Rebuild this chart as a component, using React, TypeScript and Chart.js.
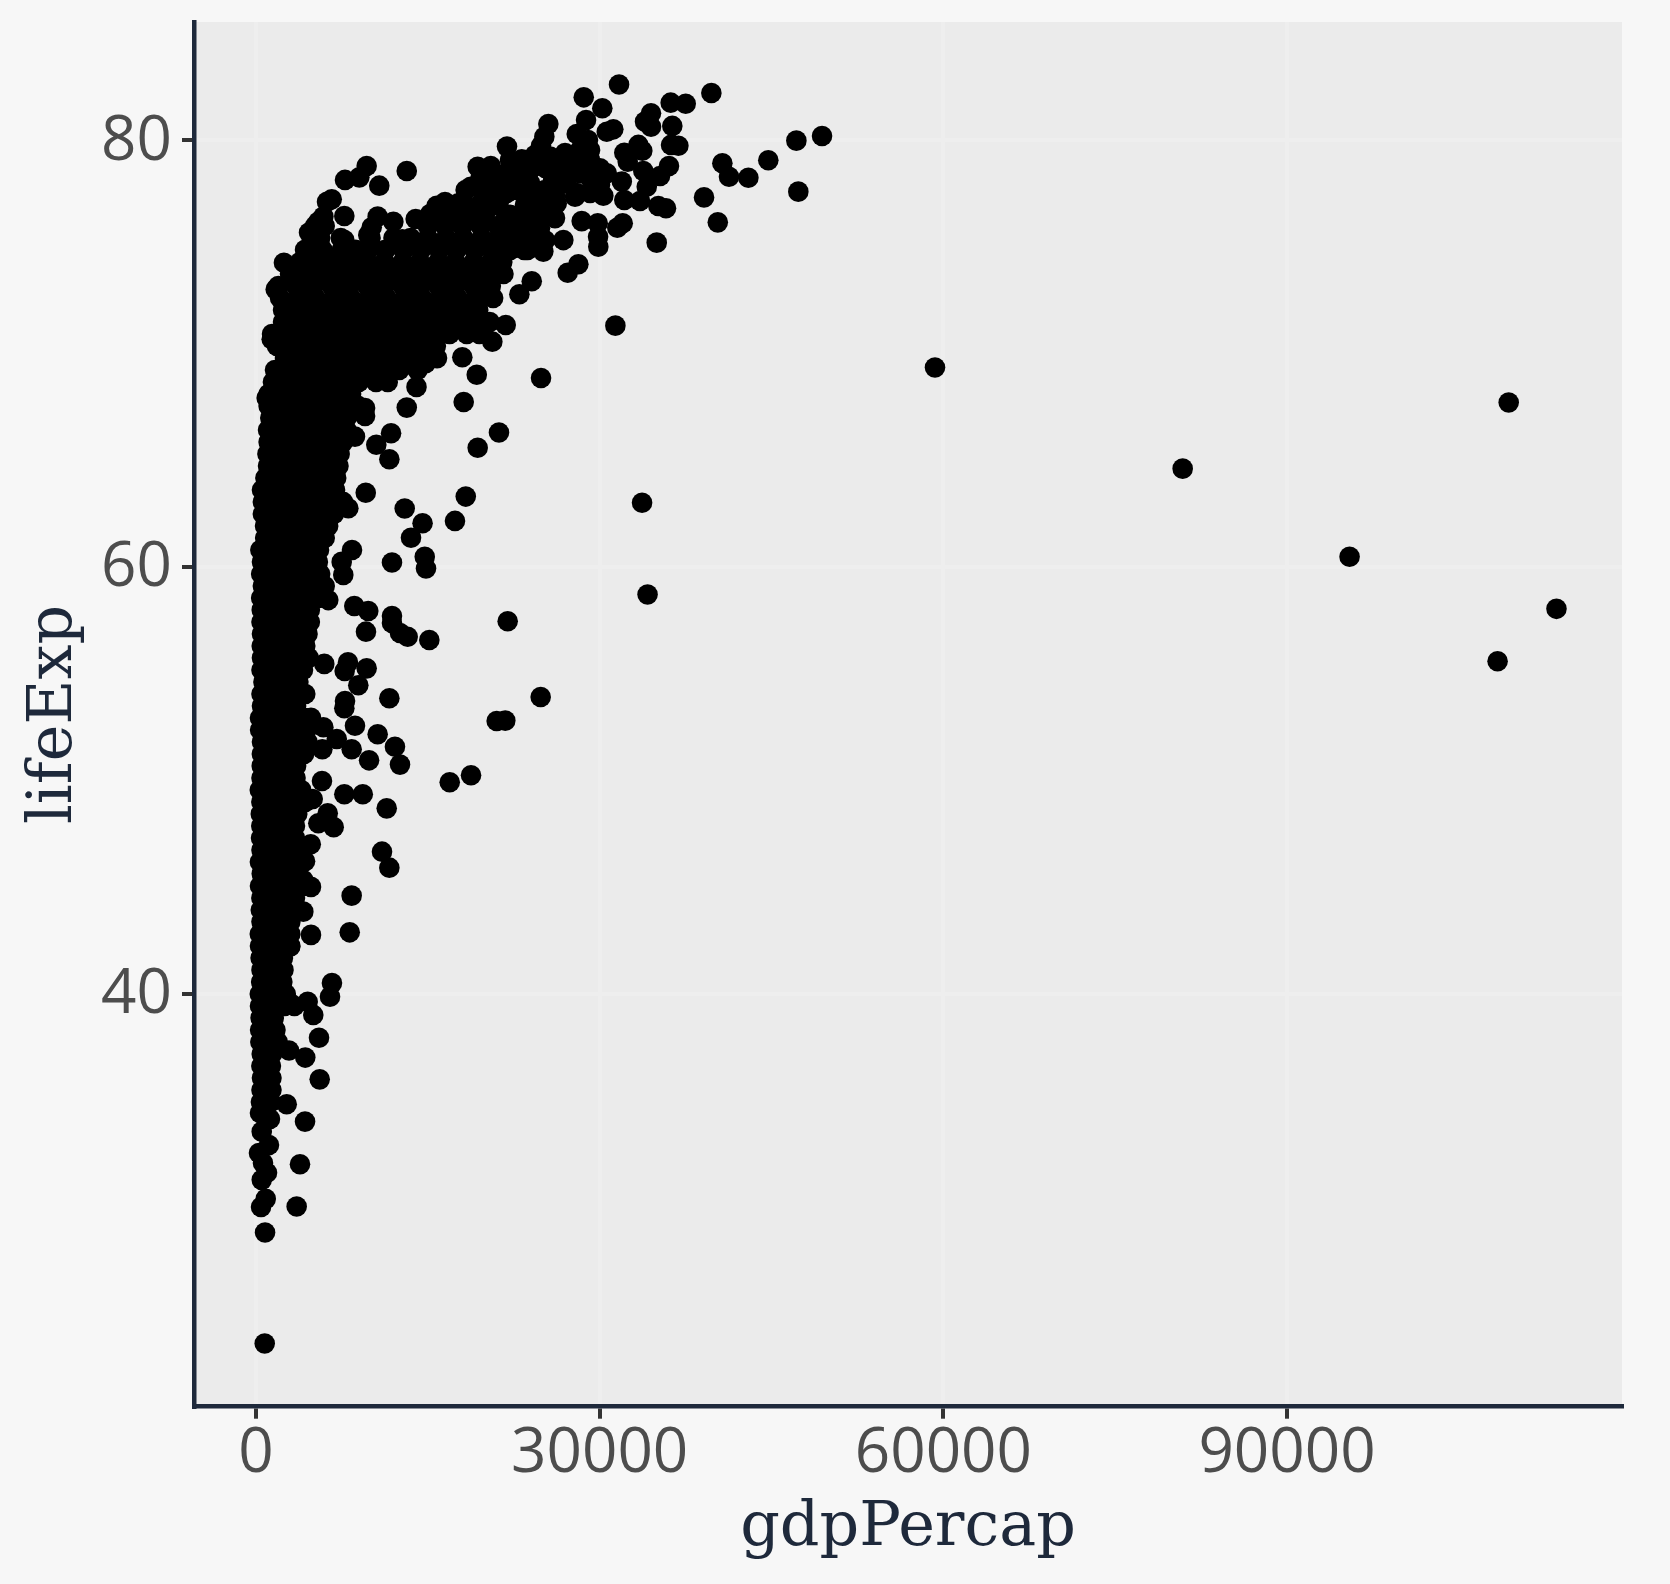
import React, { useEffect, useRef } from "react";
import { Chart, registerables } from "chart.js";

Chart.register(...registerables);

const xTitle = "gdpPercap";
const yTitle = "lifeExp";
const xTicks = [0, 30000, 60000, 90000];
const yTicks = [40, 60, 80];

// each row: life expectancy, then the gdp values read along that row of the dense cloud
const cloudLow: [number, number[]][] = [
  [34.92, [430, 1300]], [35.48, [480, 1350]], [36.04, [520, 1350]], [36.61, [470, 1300]],
  [37.17, [500, 1400]], [37.73, [380, 1500, 1900]], [38.29, [360, 1400, 1700]], [38.86, [400, 1300, 1550]],
  [39.42, [350, 1400, 2500, 3350]], [39.98, [330, 1250, 2200, 2600]], [40.54, [450, 1350, 2300]],
  [41.11, [480, 1500, 2400]], [41.67, [400, 1300, 2350]], [42.23, [350, 1400, 2450, 3000]],
  [42.79, [330, 1350, 2300, 3000]], [43.36, [480, 1500, 2450, 3000]], [43.92, [420, 1350, 2500, 3500]],
  [44.48, [470, 1500, 2500, 3400]], [45.04, [350, 1400, 2400, 3300, 4150]], [45.61, [500, 1600, 2600, 3500]],
  [46.17, [340, 1450, 2500, 3400, 4100]], [46.73, [480, 1500, 2600, 3600]], [47.29, [440, 1400, 2450, 3400]],
  [47.85, [460, 1500, 2600, 3400]], [48.42, [420, 1400, 2500, 3600]], [48.98, [470, 1500, 2500, 3500, 4300]],
  [49.54, [330, 1400, 2400, 3400, 3950]], [50.1, [480, 1450, 2500, 3450]], [50.67, [500, 1550, 2600, 3500]],
];

const cloudMid: [number, number[]][] = [
  [51.23, [510, 1500, 2500, 3500, 4200]], [51.79, [520, 1500, 2500, 3500, 4500]], [52.35, [360, 1400, 2400, 3400, 4400]],
  [52.91, [350, 1500, 2500, 3500, 4300]], [53.48, [520, 1500, 2500, 3500]], [54.04, [480, 1500, 2500, 3500, 4300]],
  [54.6, [650, 1700, 2700, 3700]], [55.16, [480, 1500, 2500, 3500, 4100]], [55.73, [520, 1600, 2600, 3600, 4600]],
  [56.29, [500, 1500, 2500, 3500, 4300]], [56.85, [520, 1600, 2700, 3700, 4500]], [57.41, [480, 1500, 2500, 3600, 4700]],
  [57.98, [500, 1600, 2700, 3700, 4700]], [58.54, [450, 1500, 2500, 3500, 4500, 5400]], [59.1, [600, 1600, 2700, 3700, 4800, 6000]],
  [59.66, [450, 1500, 2600, 3700, 4800, 5600]], [60.22, [520, 1600, 2700, 3800, 4900, 5400]], [60.79, [380, 1500, 2600, 3700, 4800, 5500]],
  [61.35, [800, 1800, 2900, 4000, 5000, 6000]], [61.91, [790, 1800, 2900, 4000, 5100, 6300]], [62.47, [600, 1700, 2800, 3900, 5000, 6100, 6800]],
  [63.04, [600, 1700, 2800, 3900, 5000, 6200, 7600]], [63.6, [520, 1600, 2700, 3800, 4900, 6000, 6900]], [64.16, [820, 1900, 3000, 4100, 5200, 6300, 7000]],
  [64.72, [1050, 2100, 3200, 4300, 5400, 6500, 7200]], [65.29, [1000, 2000, 3100, 4200, 5300, 6400, 7300]], [65.85, [1100, 2200, 3300, 4400, 5500, 6600, 7600]],
  [66.41, [1050, 2100, 3200, 4300, 5400, 6500, 7900]], [66.97, [1250, 2300, 3400, 4500, 5600, 6700, 7900]], [67.54, [1100, 2200, 3300, 4400, 5500, 6600, 7800, 8900]],
  [68.1, [1100, 2300, 3500, 4700, 5900, 7100, 8300]],
];

const cloudHigh: [number, number[]][] = [
  [68.66, [1480, 2980, 4480, 5980, 7480, 8980, 10480, 11500]],
  [69.22, [1660, 3200, 4800, 6300, 7900, 9400, 11000, 12500, 14100]],
  [69.78, [2530, 4000, 5600, 7100, 8700, 10200, 11800, 13300, 14900, 15800]],
  [70.35, [1830, 3300, 4900, 6400, 8000, 9500, 11100, 12600, 14200, 15700]],
  [70.91, [1400, 2900, 4500, 6000, 7600, 9100, 10700, 12200, 13800, 15300, 16900, 18400, 19500]],
  [71.47, [2360, 3900, 5500, 7000, 8600, 10100, 11700, 13200, 14800, 16300, 17900, 18900, 20400]],
  [72.03, [2360, 3100, 4700, 6200, 7800, 9300, 10900, 12400, 14000, 15500, 17100, 18600, 19400]],
  [72.6, [2100, 3700, 5200, 6800, 8300, 9900, 11400, 13000, 14500, 16100, 17600, 19200, 20700]],
  [73.16, [1950, 3500, 5000, 6600, 8100, 9700, 11200, 12800, 14300, 15900, 17400, 19000, 20500]],
  [73.72, [2970, 4500, 6100, 7600, 9200, 10700, 12300, 13800, 15400, 16900, 18500, 20000, 21600]],
  [74.28, [3840, 5000, 6600, 8100, 9700, 11200, 12800, 14300, 15900, 17400, 19000, 20500, 21500]],
  [74.85, [4280, 5800, 7500, 8700, 9800, 11300, 12900, 14400, 16000, 17500, 19100, 20600, 22200, 23700]],
  [75.41, [5600, 7400, 10000, 12000, 13500, 15000, 16600, 18100, 19700, 21200, 22800, 24300]],
  [75.97, [5150, 6000, 15000, 16500, 18000, 19600, 21100, 22700]],
  [76.53, [15200, 16900, 18500, 20000]],
  [77.09, [16500, 18100, 19700, 21200]],
  [77.66, [18300, 19900, 21500]],
  [78.22, [19600, 21000]],
];

// upper band of the cloud: [gdpPercap, lifeExp]
const upperBand: [number, number][] = [
  [26980, 79.39], [28290, 79.53], [28980, 80.0], [25670, 79.22], [22170, 78.6], [23920, 78.6], [30030, 78.67], [28290, 78.45],
  [30620, 78.44], [22760, 77.66], [21890, 77.52], [23920, 77.98], [25930, 78.13], [27120, 77.98], [27850, 77.34], [26250, 77.03],
  [25060, 76.72], [26100, 76.34], [24790, 75.86], [26540, 78.83], [27850, 79.06], [24350, 79.3], [29160, 79.53], [25240, 78.69],
  [26980, 78.6], [29160, 79.06], [23050, 78.13], [21740, 78.13], [24790, 77.42], [26100, 77.42], [23480, 76.95], [29160, 78.22],
  [30030, 77.9], [23050, 76.25], [21740, 76.25], [23480, 75.55], [22170, 75.55], [25240, 75.3], [24620, 77.19], [23480, 77.66],
  [25230, 77.66], [22170, 76.49], [23920, 76.34], [20860, 76.95], [20860, 77.66], [22170, 79.06], [21300, 78.36], [22610, 78.36],
];

// separately visible points: [gdpPercap, lifeExp]
const singlesLow: [number, number][] = [
  [760, 23.6], [790, 28.8], [3550, 30.02], [440, 30.0], [850, 30.38], [500, 31.27], [960, 31.6], [3840, 32.0], [610, 32.06],
  [260, 32.53], [1130, 32.9], [500, 33.53], [4280, 34.0], [1220, 34.12], [350, 34.4], [2680, 34.81], [5560, 35.98],
  [4300, 37.0], [2880, 37.33], [5500, 37.93], [5000, 39.0], [2970, 39.56], [4510, 39.62], [6460, 39.85], [6630, 40.49],
  [2970, 42.2], [4800, 42.75], [8180, 42.87], [4130, 43.84], [8350, 44.59], [4800, 45.0], [4130, 45.32], [11640, 45.9],
  [4280, 46.2], [11000, 46.65], [4780, 47.0], [3320, 47.2], [6780, 47.8], [5440, 47.98], [6260, 48.45], [11410, 48.68],
  [4950, 49.12], [7710, 49.34], [9320, 49.34], [16910, 49.9], [5760, 49.96], [18770, 50.23], [12570, 50.73], [9870, 50.93],
];

const singlesMid: [number, number][] = [
  [8350, 51.45], [5790, 51.45], [12130, 51.57], [7050, 51.93], [10620, 52.15], [5880, 52.48], [8640, 52.55], [21010, 52.77],
  [21760, 52.79], [4800, 52.92], [7710, 53.37], [7770, 53.71], [11640, 53.84], [24850, 53.9], [8930, 54.45], [7740, 55.12],
  [9660, 55.24], [5960, 55.45], [8030, 55.52], [15130, 56.57], [13240, 56.72], [12570, 56.9], [9600, 56.96], [11870, 57.37],
  [21970, 57.45], [11870, 57.69], [9800, 57.93], [8580, 58.16], [6310, 58.44], [34180, 58.7], [7620, 59.62], [14840, 59.92],
  [11870, 60.2], [7480, 60.23], [14730, 60.47], [8380, 60.79], [13530, 61.36], [14540, 62.04], [17370, 62.15], [12980, 62.73],
  [8060, 62.74], [33700, 63.0], [18310, 63.29], [9580, 63.47], [11640, 65.04], [8640, 66.1], [19350, 65.58], [10500, 65.72],
  [11790, 66.26], [21210, 66.29], [9520, 67.07], [13160, 67.46], [9520, 67.44], [18130, 67.72], [930, 67.91], [14010, 68.43],
];

const singlesHigh: [number, number][] = [
  [1660, 68.67], [24880, 68.85], [19270, 69.0], [14810, 69.54], [12280, 69.54], [3230, 69.55], [18010, 69.82], [20630, 70.55],
  [1370, 70.66], [31370, 71.3], [21800, 71.33], [22990, 72.77], [1720, 73.0], [24070, 73.38], [3030, 73.44], [27210, 73.78],
  [4130, 74.14], [28140, 74.18], [2440, 74.25], [25080, 74.77], [23420, 74.85], [29880, 75.0], [34980, 75.19], [26830, 75.31],
  [7710, 75.31], [12770, 75.35], [29860, 75.47], [9800, 75.55], [4630, 75.66], [31540, 75.89], [10100, 75.91], [32010, 76.1],
  [29830, 76.1], [40310, 76.14], [5440, 76.17], [11990, 76.17], [28430, 76.2], [13940, 76.3], [5880, 76.41], [10620, 76.41],
  [7710, 76.44], [16120, 76.64], [35790, 76.8], [35120, 76.91], [15770, 76.92], [17660, 77.03], [6200, 77.11], [33520, 77.14],
  [32150, 77.19], [6610, 77.22], [39110, 77.31], [30320, 77.39], [29160, 77.52], [28000, 77.52], [47340, 77.58], [18740, 77.81],
  [34110, 77.81], [10760, 77.86], [31930, 78.05], [7770, 78.13], [42980, 78.23], [9020, 78.25], [41290, 78.28], [35270, 78.31],
  [13160, 78.55], [33810, 78.55], [19350, 78.75], [20490, 78.78], [9660, 78.78], [36050, 78.78], [40710, 78.91], [32450, 78.98],
  [44720, 79.05], [23200, 79.1], [32150, 79.4], [33720, 79.5], [21910, 79.69], [24880, 79.73], [36870, 79.73], [33380, 79.77],
  [36230, 79.77], [47170, 79.97], [25170, 80.15], [49410, 80.19], [28000, 80.28], [30620, 80.39], [31190, 80.5], [34480, 80.62],
  [36340, 80.66], [25520, 80.75], [33960, 80.86], [28810, 80.94], [34480, 81.25], [30230, 81.49], [37510, 81.7], [36200, 81.75],
  [28610, 82.0], [39750, 82.2], [31690, 82.6],
];

const farRight: [number, number][] = [
  [59270, 69.34], [80890, 64.6], [109350, 67.7], [95460, 60.47], [113520, 58.03], [108380, 55.57],
];

const points = [
  ...[...cloudLow, ...cloudMid, ...cloudHigh].flatMap(([life, gdps]) => gdps.map((g) => ({ x: g, y: life }))),
  ...[...upperBand, ...singlesLow, ...singlesMid, ...singlesHigh, ...farRight].map(([g, life]) => ({ x: g, y: life })),
];

const panelPlugin = {
  id: "panel",
  beforeDraw(chart: any) {
    const { ctx, chartArea: a } = chart;
    ctx.save();
    ctx.fillStyle = "#F7F7F7";
    ctx.fillRect(0, 0, chart.width, chart.height);
    ctx.fillStyle = "#EBEBEB";
    ctx.fillRect(a.left, a.top, a.right - a.left, a.bottom - a.top);
    ctx.restore();
  },
};

export default function App() {
  const ref = useRef<HTMLCanvasElement>(null);
  useEffect(() => {
    document.body.style.margin = "0";
    document.body.style.background = "#F7F7F7";
    const chart = new Chart(ref.current!, {
      type: "scatter",
      data: {
        datasets: [
          {
            data: points,
            backgroundColor: "#000000",
            pointRadius: 10.3,
            pointBorderWidth: 0,
            pointHoverRadius: 10.3,
          },
        ],
      },
      plugins: [panelPlugin],
      options: {
        animation: false,
        responsive: false,
        layout: { padding: { top: 22, right: 48, left: 0, bottom: 0 } },
        plugins: { legend: { display: false }, tooltip: { enabled: false } },
        scales: {
          x: {
            type: "linear",
            min: -5412,
            max: 119240,
            afterFit: (s: any) => { s.height = 177.3; s.paddingLeft = 0; s.paddingRight = 0; },
            afterBuildTicks: (s: any) => { s.ticks = xTicks.map((v) => ({ value: v })); },
            border: { color: "#1E293B", width: 4.5 },
            grid: { color: "#EEEEEE", lineWidth: 4, tickColor: "#333333", tickWidth: 4, tickLength: 12 },
            ticks: {
              color: "#4D4D4D",
              font: { family: "Open Sans", size: 62, weight: "400" },
              padding: -2,
              maxRotation: 0,
              autoSkip: false,
              callback: (v: any) => String(v),
            },
            title: {
              display: true,
              text: xTitle,
              color: "#1E293B",
              font: { family: "DejaVu Serif", size: 62, weight: "normal" },
              padding: { top: 0, bottom: 18 },
            },
          },
          y: {
            type: "linear",
            min: 20.64,
            max: 85.53,
            afterFit: (s: any) => { s.width = 194; s.paddingTop = 0; s.paddingBottom = 0; },
            afterBuildTicks: (s: any) => { s.ticks = yTicks.map((v) => ({ value: v })); },
            border: { color: "#1E293B", width: 4.5 },
            grid: { color: "#EEEEEE", lineWidth: 4, tickColor: "#333333", tickWidth: 4, tickLength: 12 },
            ticks: {
              color: "#4D4D4D",
              font: { family: "Open Sans", size: 62, weight: "400" },
              padding: 10,
              labelOffset: 2,
              autoSkip: false,
              callback: (v: any) => String(v),
            },
            title: {
              display: true,
              text: yTitle,
              color: "#1E293B",
              font: { family: "DejaVu Serif", size: 62, weight: "normal" },
              padding: { top: 18, bottom: 0 },
            },
          },
        },
      } as any,
    });
    return () => chart.destroy();
  }, []);
  return <canvas ref={ref} width={1670} height={1584} style={{ display: "block" }} />;
}
